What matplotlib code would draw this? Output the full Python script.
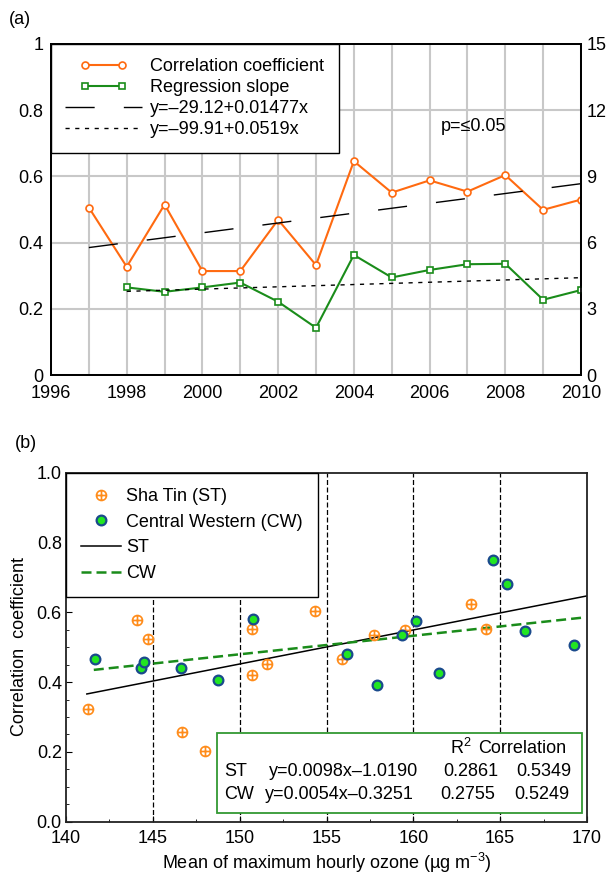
import numpy as np
import matplotlib
matplotlib.use("Agg")
import matplotlib.pyplot as plt
from matplotlib.path import Path
from matplotlib.patches import Rectangle
from matplotlib.legend_handler import HandlerLine2D

plt.rcParams['font.family'] = ['Liberation Sans', 'DejaVu Sans']
plt.rcParams['font.size'] = 13
plt.rcParams['mathtext.fontset'] = 'custom'
plt.rcParams['mathtext.rm'] = 'Liberation Sans'
plt.rcParams['mathtext.it'] = 'Liberation Sans:italic'

#%%
# data, panel (a)
years = [1997, 1998, 1999, 2000, 2001, 2002, 2003, 2004, 2005, 2006, 2007, 2008, 2009, 2010]
corr = [0.506, 0.327, 0.515, 0.314, 0.314, 0.469, 0.332, 0.646, 0.551, 0.588, 0.554, 0.604, 0.499, 0.530]
slope_years = [1998, 1999, 2000, 2001, 2002, 2003, 2004, 2005, 2006, 2007, 2008, 2009, 2010]
slope = [3.97, 3.77, 3.97, 4.19, 3.32, 2.14, 5.44, 4.42, 4.76, 5.02, 5.04, 3.41, 3.85]
corr_fit_x = [1997, 2010]
corr_fit_y = [0.385, 0.578]
slope_fit_x = [1998, 2010]
slope_fit_y = [3.79, 4.41]

# data, panel (b)
st_x = [141.28, 144.08, 144.75, 146.68, 148.02, 150.72, 150.70, 151.57, 154.33, 155.87, 157.71, 159.51, 163.30, 164.17]
st_y = [0.323, 0.578, 0.523, 0.256, 0.203, 0.553, 0.420, 0.451, 0.605, 0.467, 0.535, 0.549, 0.625, 0.551]
cw_x = [141.67, 144.32, 144.47, 146.64, 148.73, 150.78, 156.17, 157.89, 159.37, 160.17, 161.50, 164.56, 165.37, 166.41, 169.26]
cw_y = [0.465, 0.440, 0.458, 0.441, 0.406, 0.581, 0.480, 0.391, 0.535, 0.575, 0.425, 0.749, 0.681, 0.546, 0.506]
st_fit_x = [141.2, 170]
st_fit_y = [0.366, 0.647]
cw_fit_x = [141.6, 169.8]
cw_fit_y = [0.435, 0.585]
vlines_b = [145, 150, 155, 160, 165]

table_rows = [
    ("ST", "y=0.0098x\u20131.0190", "0.2861", "0.5349"),
    ("CW", "y=0.0054x\u20130.3251", "0.2755", "0.5249"),
]

orange_a = '#ff6a10'
green_a = '#1a8c1a'
orange_b = '#ff8c1a'
green_b = '#22e622'
blue_b = '#1a4a8c'

fig = plt.figure(figsize=(6.1, 8.76), dpi=100)

#%%
# panel (a)
ax = fig.add_axes([51/610, 1-375/876, 530/610, 331/876])
ax2 = ax.twinx()

ax.set_xlim(1996, 2010)
ax.set_ylim(0, 1)
ax2.set_ylim(0, 15)
ax.set_xticks(range(1996, 2011, 2))
ax.set_xticks(range(1996, 2011), minor=True)
ax.set_yticks([0, 0.2, 0.4, 0.6, 0.8, 1.0], ['0', '0.2', '0.4', '0.6', '0.8', '1'])
ax2.set_yticks([0, 3, 6, 9, 12, 15])
ax.xaxis.grid(True, which='both', color='#c8c8c8', lw=1.5)
ax.yaxis.grid(True, which='major', color='#c8c8c8', lw=1.5)
ax.set_axisbelow(True)
ax.tick_params(axis='x', which='both', length=0, pad=7.5)
ax.tick_params(axis='y', which='both', length=0, pad=5.5)
ax2.tick_params(axis='y', length=0, pad=4)
for a in (ax, ax2):
    for s in a.spines.values():
        s.set_linewidth(1.3)
        s.set_color('black')

l1, = ax.plot(years, corr, '-o', color=orange_a, lw=1.5, ms=5, mfc='white',
              mec=orange_a, mew=1.2, label='Correlation coefficient')
l3, = ax.plot(corr_fit_x, corr_fit_y, color='black', lw=1.0, dashes=(21, 21),
              label='y=\u201329.12+0.01477x')
l2, = ax2.plot(slope_years, slope, '-s', color=green_a, lw=1.5, ms=4.5, mfc='white',
               mec=green_a, mew=1.2, label='Regression slope')
l4, = ax2.plot(slope_fit_x, slope_fit_y, color='black', lw=1.0, dashes=(3, 4),
               label='y=\u201399.91+0.0519x')

ax2.text(2006.29, 11.25, 'p=\u22640.05', ha='left', va='center')

leg = ax2.legend(handles=[l1, l2, l3, l4], loc='upper left', borderaxespad=0,
                 fancybox=False, framealpha=1, edgecolor='black', handlelength=4.25,
                 handletextpad=0.45, labelspacing=0.22, borderpad=0.8,
                 handler_map={l1: HandlerLine2D(numpoints=2, marker_pad=1.1),
                              l2: HandlerLine2D(numpoints=2, marker_pad=1.1)})
leg.get_frame().set_linewidth(1.0)

fig.text(20/610, 1-20/876, '(a)', ha='center', va='center')

#%%
# panel (b)
bx = fig.add_axes([66/610, 1-821.7/876, 521/610, 349/876])
bx.set_xlim(140, 170)
bx.set_ylim(0, 1)
bx.set_xticks([140, 145, 150, 155, 160, 165, 170])
bx.set_xticks(np.arange(140, 170.1, 2.5), minor=True)
bx.set_yticks([0, 0.2, 0.4, 0.6, 0.8, 1.0], ['0.0', '0.2', '0.4', '0.6', '0.8', '1.0'])
bx.set_yticks(np.arange(0, 1.001, 0.05), minor=True)
bx.tick_params(which='both', direction='in')
bx.tick_params(which='major', length=4)
bx.tick_params(which='minor', length=2.5)
bx.tick_params(axis='x', pad=6)
bx.tick_params(axis='y', pad=3)
for s in bx.spines.values():
    s.set_linewidth(1.3)
    s.set_color('#222222')

for v in vlines_b:
    bx.axvline(v, color='black', lw=0.9, dashes=(4, 2), zorder=1)

oplus = Path.make_compound_path(
    Path.unit_circle(),
    Path([[-1, 0], [1, 0], [0, -1], [0, 1]],
         [Path.MOVETO, Path.LINETO, Path.MOVETO, Path.LINETO]))

h1, = bx.plot(st_x, st_y, ls='none', marker=oplus, ms=7.2, mfc='none', mec=orange_b,
              mew=1.2, label='Sha Tin (ST)', zorder=3)
h2, = bx.plot(cw_x, cw_y, ls='none', marker='o', ms=7, mfc=green_b, mec=blue_b,
              mew=1.6, label='Central Western (CW)', zorder=3)
h3, = bx.plot(st_fit_x, st_fit_y, color='black', lw=1.1, label='ST', zorder=2)
h4, = bx.plot(cw_fit_x, cw_fit_y, color=green_a, lw=1.8, dashes=(4, 2), label='CW', zorder=2)

legb = bx.legend(handles=[h1, h2, h3, h4], loc='upper left', borderaxespad=0,
                 fancybox=False, framealpha=1, edgecolor='black', numpoints=1,
                 handlelength=2.2, handletextpad=0.3, labelspacing=0.48, borderpad=0.85)
legb.get_frame().set_linewidth(1.0)
legb.set_zorder(6)

box = Rectangle((148.7, 0.025), 21.0, 0.23, facecolor='white', edgecolor='#339933',
                lw=1.3, zorder=5)
bx.add_patch(box)

bx.text(162.1, 0.211, 'R$^{2}$', ha='left', va='center', zorder=6)
bx.text(163.72, 0.211, 'Correlation', ha='left', va='center', zorder=6)
row_y = [0.145, 0.079]
eq_x = [151.69, 151.46]
r2_x = [161.70, 161.53]
cc_x = [165.91, 165.79]
for i, (name, eq, r2, cc) in enumerate(table_rows):
    bx.text(149.1, row_y[i], name, ha='left', va='center', zorder=6)
    bx.text(eq_x[i], row_y[i], eq, ha='left', va='center', zorder=6)
    bx.text(r2_x[i], row_y[i], r2, ha='left', va='center', zorder=6)
    bx.text(cc_x[i], row_y[i], cc, ha='left', va='center', zorder=6)

fig.text(326.5/610, 1-863/876, 'Mean of maximum hourly ozone (\u00b5g m$^{-3}$)',
         ha='center', va='center')
fig.text(19.5/610, 1-647/876, 'Correlation  coefficient', rotation=90,
         ha='center', va='center')
fig.text(26/610, 1-444/876, '(b)', ha='center', va='center')

fig.savefig('out.png', dpi=100)
